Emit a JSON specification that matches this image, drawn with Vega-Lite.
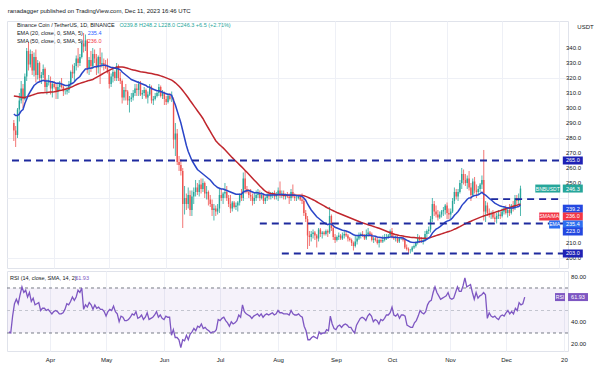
{
"$schema": "https://vega.github.io/schema/vega-lite/v6.json",
"background": "#ffffff",
"padding": {"left": 5, "top": 7, "right": 0, "bottom": 0},
"spacing": 1,
"title": {"text": "ranadagger published on TradingView.com, Dec 11, 2023 16:46 UTC", "anchor": "start", "fontSize": 6, "fontWeight": "normal", "font": "Liberation Sans", "color": "#131722", "offset": 7, "dx": 2},
"config": {
  "view": {"stroke": "#e0e3eb"},
  "font": "Liberation Sans",
  "axis": {"labelFont": "Liberation Sans", "labelFontSize": 6, "labelColor": "#131722", "gridColor": "#eef0f6", "gridWidth": 1, "domain": false, "ticks": false, "labelOverlap": false}
},
"datasets": {
"bnb": [
{"d":"2023-03-10","o":290,"h":292,"l":278,"c":285,"e":296,"s":308,"r":31},
{"d":"2023-03-11","o":285,"h":288,"l":274,"c":282,"e":295,"s":307.8,"r":30},
{"d":"2023-03-12","o":282,"h":300,"l":280,"c":299,"e":295,"s":307.6,"r":45},
{"d":"2023-03-13","o":299,"h":310,"l":291,"c":305,"e":296,"s":307.4,"r":56},
{"d":"2023-03-14","o":305,"h":318,"l":303,"c":313,"e":298,"s":307.2,"r":60},
{"d":"2023-03-15","o":313,"h":316,"l":300,"c":306,"e":299,"s":307,"r":56},
{"d":"2023-03-16","o":306,"h":323,"l":305,"c":321,"e":303,"s":307,"r":64},
{"d":"2023-03-17","o":321,"h":340,"l":318,"c":338,"e":306,"s":307.4,"r":71},
{"d":"2023-03-18","o":338,"h":344,"l":325,"c":329,"e":309,"s":307.8,"r":66},
{"d":"2023-03-19","o":329,"h":339,"l":327,"c":336,"e":311,"s":308.2,"r":68},
{"d":"2023-03-20","o":336,"h":338,"l":322,"c":325,"e":313,"s":308.6,"r":62},
{"d":"2023-03-21","o":325,"h":337,"l":321,"c":334,"e":315,"s":309,"r":66},
{"d":"2023-03-22","o":334,"h":339,"l":317,"c":322,"e":316,"s":309.4,"r":58},
{"d":"2023-03-23","o":322,"h":332,"l":319,"c":330,"e":317,"s":309.8,"r":61},
{"d":"2023-03-24","o":330,"h":331,"l":318,"c":320,"e":317.5,"s":310,"r":55},
{"d":"2023-03-25","o":320,"h":324,"l":316,"c":322,"e":318,"s":310.1,"r":56},
{"d":"2023-03-26","o":322,"h":329,"l":320,"c":326,"e":318.5,"s":310.2,"r":57},
{"d":"2023-03-27","o":326,"h":327,"l":311,"c":314,"e":318,"s":310.3,"r":50},
{"d":"2023-03-28","o":314,"h":319,"l":309,"c":317,"e":318,"s":310.4,"r":52},
{"d":"2023-03-29","o":317,"h":322,"l":315,"c":318,"e":318,"s":310.5,"r":52},
{"d":"2023-03-30","o":318,"h":321,"l":309,"c":313,"e":317.5,"s":310.6,"r":50},
{"d":"2023-03-31","o":313,"h":318,"l":307,"c":316,"e":317.5,"s":310.7,"r":51},
{"d":"2023-04-01","o":316,"h":318,"l":313,"c":314,"e":317,"s":310.8,"r":49},
{"d":"2023-04-02","o":314,"h":316,"l":306,"c":311,"e":316.5,"s":311,"r":47},
{"d":"2023-04-03","o":311,"h":317,"l":306,"c":314,"e":316.5,"s":311.3,"r":49},
{"d":"2023-04-04","o":314,"h":318,"l":312,"c":316,"e":316.5,"s":311.6,"r":50},
{"d":"2023-04-05","o":316,"h":320,"l":313,"c":314,"e":316,"s":311.9,"r":49},
{"d":"2023-04-06","o":314,"h":315,"l":308,"c":311,"e":315.5,"s":312.2,"r":47},
{"d":"2023-04-07","o":311,"h":313,"l":309,"c":311,"e":315,"s":312.5,"r":47},
{"d":"2023-04-08","o":311,"h":314,"l":309,"c":312,"e":315,"s":312.8,"r":48},
{"d":"2023-04-09","o":312,"h":318,"l":310,"c":316,"e":315,"s":313.1,"r":51},
{"d":"2023-04-10","o":316,"h":325,"l":314,"c":324,"e":316,"s":313.7,"r":56},
{"d":"2023-04-11","o":324,"h":329,"l":320,"c":323,"e":316.5,"s":314.3,"r":55},
{"d":"2023-04-12","o":323,"h":330,"l":318,"c":328,"e":317.5,"s":314.9,"r":58},
{"d":"2023-04-13","o":328,"h":335,"l":325,"c":333,"e":319,"s":315.5,"r":62},
{"d":"2023-04-14","o":333,"h":340,"l":327,"c":330,"e":320,"s":316,"r":59},
{"d":"2023-04-15","o":330,"h":336,"l":328,"c":334,"e":321,"s":316.4,"r":62},
{"d":"2023-04-16","o":334,"h":345,"l":333,"c":343,"e":323,"s":316.8,"r":68},
{"d":"2023-04-17","o":343,"h":350,"l":337,"c":341,"e":324.5,"s":317.2,"r":66},
{"d":"2023-04-18","o":341,"h":349,"l":338,"c":345,"e":326,"s":317.6,"r":70},
{"d":"2023-04-19","o":345,"h":346,"l":323,"c":326,"e":326,"s":318,"r":51},
{"d":"2023-04-20","o":326,"h":334,"l":322,"c":332,"e":326.5,"s":318.4,"r":55},
{"d":"2023-04-21","o":332,"h":338,"l":324,"c":328,"e":326.5,"s":318.7,"r":53},
{"d":"2023-04-22","o":328,"h":340,"l":326,"c":336,"e":327,"s":319,"r":57},
{"d":"2023-04-23","o":336,"h":339,"l":330,"c":333,"e":327.5,"s":319.7,"r":55},
{"d":"2023-04-24","o":333,"h":336,"l":322,"c":327,"e":327.5,"s":320.4,"r":51},
{"d":"2023-04-25","o":327,"h":335,"l":323,"c":334,"e":328,"s":321.1,"r":55},
{"d":"2023-04-26","o":334,"h":340,"l":316,"c":329,"e":328,"s":321.8,"r":52},
{"d":"2023-04-27","o":329,"h":337,"l":327,"c":330,"e":328.5,"s":322.5,"r":53},
{"d":"2023-04-28","o":330,"h":333,"l":325,"c":328,"e":328.5,"s":323.2,"r":51},
{"d":"2023-04-29","o":328,"h":332,"l":326,"c":327,"e":328.5,"s":323.9,"r":51},
{"d":"2023-04-30","o":327,"h":333,"l":323,"c":324,"e":328,"s":324.5,"r":49},
{"d":"2023-05-01","o":324,"h":326,"l":313,"c":316,"e":327.5,"s":325.1,"r":45},
{"d":"2023-05-02","o":316,"h":323,"l":314,"c":321,"e":327,"s":325.7,"r":49},
{"d":"2023-05-03","o":321,"h":326,"l":317,"c":324,"e":327,"s":326.3,"r":51},
{"d":"2023-05-04","o":324,"h":325,"l":318,"c":320,"e":326.5,"s":326.8,"r":50},
{"d":"2023-05-05","o":320,"h":330,"l":318,"c":328,"e":326.5,"s":327.1,"r":54},
{"d":"2023-05-06","o":328,"h":329,"l":318,"c":320,"e":326,"s":327.3,"r":49},
{"d":"2023-05-07","o":320,"h":324,"l":316,"c":318,"e":325.5,"s":327.4,"r":47},
{"d":"2023-05-08","o":318,"h":319,"l":303,"c":307,"e":324,"s":327.3,"r":40},
{"d":"2023-05-09","o":307,"h":314,"l":305,"c":312,"e":323,"s":327.1,"r":45},
{"d":"2023-05-10","o":312,"h":316,"l":305,"c":311,"e":322,"s":326.8,"r":44},
{"d":"2023-05-11","o":311,"h":312,"l":302,"c":305,"e":321,"s":326.5,"r":41},
{"d":"2023-05-12","o":305,"h":308,"l":297,"c":306,"e":320,"s":326.1,"r":41},
{"d":"2023-05-13","o":306,"h":310,"l":304,"c":307,"e":319,"s":325.7,"r":42},
{"d":"2023-05-14","o":307,"h":312,"l":305,"c":310,"e":318.5,"s":325.4,"r":44},
{"d":"2023-05-15","o":310,"h":316,"l":308,"c":313,"e":318,"s":325.1,"r":47},
{"d":"2023-05-16","o":313,"h":316,"l":308,"c":312,"e":317.5,"s":324.8,"r":46},
{"d":"2023-05-17","o":312,"h":318,"l":308,"c":316,"e":317,"s":324.5,"r":49},
{"d":"2023-05-18","o":316,"h":318,"l":308,"c":309,"e":316.5,"s":324.2,"r":43},
{"d":"2023-05-19","o":309,"h":312,"l":306,"c":310,"e":316,"s":324,"r":44},
{"d":"2023-05-20","o":310,"h":314,"l":308,"c":312,"e":315.5,"s":323.8,"r":46},
{"d":"2023-05-21","o":312,"h":313,"l":306,"c":307,"e":315,"s":323.6,"r":42},
{"d":"2023-05-22","o":307,"h":311,"l":303,"c":309,"e":314,"s":323.4,"r":44},
{"d":"2023-05-23","o":309,"h":316,"l":308,"c":314,"e":314,"s":323.2,"r":48},
{"d":"2023-05-24","o":314,"h":315,"l":303,"c":305,"e":313,"s":323,"r":42},
{"d":"2023-05-25","o":305,"h":308,"l":302,"c":306,"e":312.5,"s":322.7,"r":43},
{"d":"2023-05-26","o":306,"h":310,"l":305,"c":308,"e":312,"s":322.4,"r":44},
{"d":"2023-05-27","o":308,"h":311,"l":307,"c":310,"e":311.5,"s":322.1,"r":46},
{"d":"2023-05-28","o":310,"h":316,"l":308,"c":314,"e":311.5,"s":321.8,"r":49},
{"d":"2023-05-29","o":314,"h":315,"l":307,"c":308,"e":311,"s":321.4,"r":44},
{"d":"2023-05-30","o":308,"h":312,"l":306,"c":310,"e":310.5,"s":321,"r":46},
{"d":"2023-05-31","o":310,"h":311,"l":302,"c":306,"e":310,"s":320.6,"r":43},
{"d":"2023-06-01","o":306,"h":308,"l":302,"c":304,"e":309.5,"s":320.1,"r":42},
{"d":"2023-06-02","o":304,"h":310,"l":303,"c":308,"e":309,"s":319.6,"r":45},
{"d":"2023-06-03","o":308,"h":310,"l":305,"c":306,"e":309,"s":319.1,"r":44},
{"d":"2023-06-04","o":306,"h":311,"l":304,"c":306,"e":308.5,"s":318.6,"r":44},
{"d":"2023-06-05","o":306,"h":307,"l":273,"c":279,"e":305,"s":317.8,"r":28},
{"d":"2023-06-06","o":279,"h":290,"l":268,"c":283,"e":302,"s":316.8,"r":33},
{"d":"2023-06-07","o":283,"h":286,"l":262,"c":264,"e":298,"s":315.7,"r":26},
{"d":"2023-06-08","o":264,"h":268,"l":258,"c":262,"e":294,"s":314.5,"r":26},
{"d":"2023-06-09","o":262,"h":266,"l":255,"c":258,"e":290,"s":313.2,"r":24},
{"d":"2023-06-10","o":258,"h":260,"l":220,"c":236,"e":285,"s":311.7,"r":17},
{"d":"2023-06-11","o":236,"h":248,"l":229,"c":240,"e":280,"s":310.1,"r":24},
{"d":"2023-06-12","o":240,"h":243,"l":232,"c":236,"e":275,"s":308.5,"r":23},
{"d":"2023-06-13","o":236,"h":247,"l":233,"c":242,"e":271,"s":306.8,"r":28},
{"d":"2023-06-14","o":242,"h":245,"l":228,"c":232,"e":268,"s":305,"r":24},
{"d":"2023-06-15","o":232,"h":245,"l":228,"c":241,"e":265,"s":303.3,"r":29},
{"d":"2023-06-16","o":241,"h":247,"l":236,"c":244,"e":263,"s":301.6,"r":31},
{"d":"2023-06-17","o":244,"h":252,"l":241,"c":247,"e":261,"s":299.9,"r":34},
{"d":"2023-06-18","o":247,"h":250,"l":242,"c":244,"e":259,"s":298.2,"r":32},
{"d":"2023-06-19","o":244,"h":252,"l":241,"c":249,"e":258,"s":296.5,"r":36},
{"d":"2023-06-20","o":249,"h":253,"l":243,"c":246,"e":257,"s":294.8,"r":35},
{"d":"2023-06-21","o":246,"h":253,"l":244,"c":250,"e":256,"s":293,"r":38},
{"d":"2023-06-22","o":250,"h":251,"l":240,"c":243,"e":255,"s":290.8,"r":34},
{"d":"2023-06-23","o":243,"h":248,"l":239,"c":244,"e":254,"s":288.6,"r":35},
{"d":"2023-06-24","o":244,"h":245,"l":235,"c":239,"e":253,"s":286.5,"r":33},
{"d":"2023-06-25","o":239,"h":242,"l":234,"c":236,"e":252,"s":284.4,"r":32},
{"d":"2023-06-26","o":236,"h":239,"l":228,"c":232,"e":250.5,"s":282.3,"r":30},
{"d":"2023-06-27","o":232,"h":236,"l":225,"c":233,"e":249,"s":280.2,"r":31},
{"d":"2023-06-28","o":233,"h":235,"l":228,"c":231,"e":248,"s":278.2,"r":31},
{"d":"2023-06-29","o":231,"h":236,"l":229,"c":233,"e":247,"s":276.8,"r":33},
{"d":"2023-06-30","o":233,"h":246,"l":230,"c":242,"e":246.5,"s":275.6,"r":42},
{"d":"2023-07-01","o":242,"h":246,"l":238,"c":240,"e":246,"s":274.5,"r":41},
{"d":"2023-07-02","o":240,"h":244,"l":236,"c":243,"e":246,"s":273.4,"r":43},
{"d":"2023-07-03","o":243,"h":250,"l":240,"c":244,"e":245.5,"s":272.1,"r":44},
{"d":"2023-07-04","o":244,"h":248,"l":238,"c":240,"e":245,"s":270.8,"r":41},
{"d":"2023-07-05","o":240,"h":242,"l":234,"c":236,"e":244.5,"s":269.5,"r":39},
{"d":"2023-07-06","o":236,"h":242,"l":230,"c":233,"e":244,"s":268.2,"r":36},
{"d":"2023-07-07","o":233,"h":238,"l":231,"c":237,"e":243.5,"s":266.9,"r":40},
{"d":"2023-07-08","o":237,"h":238,"l":233,"c":234,"e":243,"s":265.7,"r":38},
{"d":"2023-07-09","o":234,"h":237,"l":232,"c":235,"e":242.5,"s":264.5,"r":39},
{"d":"2023-07-10","o":235,"h":238,"l":231,"c":237,"e":242.5,"s":263.3,"r":41},
{"d":"2023-07-11","o":237,"h":243,"l":235,"c":242,"e":242.5,"s":262.1,"r":46},
{"d":"2023-07-12","o":242,"h":246,"l":238,"c":240,"e":242.5,"s":260.9,"r":44},
{"d":"2023-07-13","o":240,"h":257,"l":238,"c":253,"e":244,"s":259.7,"r":55},
{"d":"2023-07-14","o":253,"h":258,"l":243,"c":246,"e":244.5,"s":258.4,"r":49},
{"d":"2023-07-15","o":246,"h":248,"l":243,"c":244,"e":245,"s":257.1,"r":47},
{"d":"2023-07-16","o":244,"h":246,"l":240,"c":242,"e":245,"s":255.8,"r":46},
{"d":"2023-07-17","o":242,"h":246,"l":238,"c":241,"e":244.5,"s":254.5,"r":45},
{"d":"2023-07-18","o":241,"h":243,"l":235,"c":238,"e":244,"s":253.2,"r":43},
{"d":"2023-07-19","o":238,"h":244,"l":236,"c":240,"e":243.5,"s":251.9,"r":45},
{"d":"2023-07-20","o":240,"h":245,"l":238,"c":242,"e":243.5,"s":250.6,"r":46},
{"d":"2023-07-21","o":242,"h":246,"l":240,"c":243,"e":243.5,"s":249.3,"r":47},
{"d":"2023-07-22","o":243,"h":245,"l":238,"c":240,"e":243,"s":248,"r":45},
{"d":"2023-07-23","o":240,"h":244,"l":239,"c":242,"e":243,"s":246.8,"r":47},
{"d":"2023-07-24","o":242,"h":243,"l":236,"c":238,"e":242.5,"s":245.6,"r":44},
{"d":"2023-07-25","o":238,"h":241,"l":236,"c":240,"e":242,"s":244.5,"r":46},
{"d":"2023-07-26","o":240,"h":243,"l":238,"c":242,"e":242,"s":243.8,"r":47},
{"d":"2023-07-27","o":242,"h":245,"l":239,"c":241,"e":242,"s":243.3,"r":46},
{"d":"2023-07-28","o":241,"h":244,"l":239,"c":242,"e":242,"s":243,"r":47},
{"d":"2023-07-29","o":242,"h":244,"l":240,"c":243,"e":242,"s":242.8,"r":48},
{"d":"2023-07-30","o":243,"h":245,"l":239,"c":241,"e":242,"s":242.6,"r":46},
{"d":"2023-07-31","o":241,"h":244,"l":239,"c":242,"e":242,"s":242.4,"r":47},
{"d":"2023-08-01","o":242,"h":247,"l":238,"c":245,"e":242.3,"s":242.2,"r":50},
{"d":"2023-08-02","o":245,"h":251,"l":240,"c":242,"e":242.3,"s":242.1,"r":48},
{"d":"2023-08-03","o":242,"h":245,"l":240,"c":243,"e":242.4,"s":242,"r":48},
{"d":"2023-08-04","o":243,"h":245,"l":239,"c":241,"e":242.3,"s":241.9,"r":47},
{"d":"2023-08-05","o":241,"h":243,"l":239,"c":242,"e":242.2,"s":241.9,"r":47},
{"d":"2023-08-06","o":242,"h":244,"l":240,"c":241,"e":242,"s":241.9,"r":47},
{"d":"2023-08-07","o":241,"h":243,"l":236,"c":240,"e":241.8,"s":241.8,"r":46},
{"d":"2023-08-08","o":240,"h":246,"l":238,"c":244,"e":242,"s":241.8,"r":50},
{"d":"2023-08-09","o":244,"h":249,"l":240,"c":241,"e":242,"s":241.9,"r":47},
{"d":"2023-08-10","o":241,"h":243,"l":238,"c":240,"e":241.8,"s":241.9,"r":46},
{"d":"2023-08-11","o":240,"h":242,"l":238,"c":240,"e":241.6,"s":241.9,"r":46},
{"d":"2023-08-12","o":240,"h":242,"l":239,"c":241,"e":241.5,"s":241.9,"r":47},
{"d":"2023-08-13","o":241,"h":242,"l":238,"c":239,"e":241.3,"s":241.8,"r":45},
{"d":"2023-08-14","o":239,"h":243,"l":236,"c":238,"e":241,"s":241.7,"r":44},
{"d":"2023-08-15","o":238,"h":240,"l":228,"c":230,"e":240,"s":241.5,"r":36},
{"d":"2023-08-16","o":230,"h":232,"l":224,"c":226,"e":238.5,"s":241.1,"r":32},
{"d":"2023-08-17","o":226,"h":228,"l":206,"c":215,"e":236,"s":240.6,"r":24},
{"d":"2023-08-18","o":215,"h":218,"l":208,"c":214,"e":234,"s":240,"r":24},
{"d":"2023-08-19","o":214,"h":218,"l":211,"c":216,"e":232,"s":239.4,"r":26},
{"d":"2023-08-20","o":216,"h":219,"l":213,"c":217,"e":230.5,"s":238.8,"r":27},
{"d":"2023-08-21","o":217,"h":218,"l":212,"c":215,"e":229,"s":238.2,"r":26},
{"d":"2023-08-22","o":215,"h":216,"l":207,"c":213,"e":227.5,"s":237.5,"r":25},
{"d":"2023-08-23","o":213,"h":220,"l":211,"c":219,"e":226.5,"s":236.8,"r":31},
{"d":"2023-08-24","o":219,"h":220,"l":214,"c":216,"e":225.5,"s":236.1,"r":29},
{"d":"2023-08-25","o":216,"h":218,"l":213,"c":217,"e":224.5,"s":235.4,"r":30},
{"d":"2023-08-26","o":217,"h":218,"l":215,"c":216,"e":223.5,"s":234.7,"r":30},
{"d":"2023-08-27","o":216,"h":219,"l":215,"c":218,"e":222.8,"s":234,"r":33},
{"d":"2023-08-28","o":218,"h":219,"l":214,"c":217,"e":222.2,"s":233.3,"r":32},
{"d":"2023-08-29","o":217,"h":234,"l":216,"c":228,"e":222.8,"s":232.7,"r":45},
{"d":"2023-08-30","o":228,"h":229,"l":218,"c":220,"e":222.5,"s":232.1,"r":38},
{"d":"2023-08-31","o":220,"h":222,"l":212,"c":214,"e":221.5,"s":231.5,"r":34},
{"d":"2023-09-01","o":214,"h":216,"l":210,"c":212,"e":220.5,"s":230.9,"r":33},
{"d":"2023-09-02","o":212,"h":215,"l":211,"c":214,"e":220,"s":230.3,"r":36},
{"d":"2023-09-03","o":214,"h":217,"l":212,"c":215,"e":219.5,"s":229.8,"r":37},
{"d":"2023-09-04","o":215,"h":216,"l":212,"c":213,"e":219,"s":229.3,"r":35},
{"d":"2023-09-05","o":213,"h":217,"l":212,"c":215,"e":218.5,"s":228.8,"r":37},
{"d":"2023-09-06","o":215,"h":218,"l":213,"c":216,"e":218.3,"s":228.3,"r":38},
{"d":"2023-09-07","o":216,"h":218,"l":214,"c":215,"e":218,"s":227.8,"r":37},
{"d":"2023-09-08","o":215,"h":216,"l":211,"c":213,"e":217.5,"s":227.3,"r":35},
{"d":"2023-09-09","o":213,"h":214,"l":211,"c":212,"e":217,"s":226.8,"r":35},
{"d":"2023-09-10","o":212,"h":213,"l":208,"c":210,"e":216.3,"s":226.3,"r":32},
{"d":"2023-09-11","o":210,"h":211,"l":205,"c":208,"e":215.5,"s":225.8,"r":30},
{"d":"2023-09-12","o":208,"h":215,"l":207,"c":211,"e":215.2,"s":225.3,"r":37},
{"d":"2023-09-13","o":211,"h":215,"l":209,"c":213,"e":215,"s":224.8,"r":40},
{"d":"2023-09-14","o":213,"h":217,"l":212,"c":215,"e":215,"s":224.3,"r":43},
{"d":"2023-09-15","o":215,"h":217,"l":213,"c":216,"e":215.1,"s":223.8,"r":44},
{"d":"2023-09-16","o":216,"h":218,"l":214,"c":215,"e":215.1,"s":223.4,"r":43},
{"d":"2023-09-17","o":215,"h":216,"l":212,"c":213,"e":214.9,"s":223,"r":41},
{"d":"2023-09-18","o":213,"h":219,"l":212,"c":216,"e":215,"s":222.6,"r":45},
{"d":"2023-09-19","o":216,"h":220,"l":214,"c":217,"e":215.2,"s":222.2,"r":47},
{"d":"2023-09-20","o":217,"h":218,"l":214,"c":216,"e":215.3,"s":221.8,"r":45},
{"d":"2023-09-21","o":216,"h":217,"l":211,"c":212,"e":214.9,"s":221.4,"r":40},
{"d":"2023-09-22","o":212,"h":214,"l":210,"c":213,"e":214.7,"s":221,"r":42},
{"d":"2023-09-23","o":213,"h":214,"l":211,"c":212,"e":214.5,"s":220.6,"r":41},
{"d":"2023-09-24","o":212,"h":214,"l":209,"c":210,"e":214,"s":220.2,"r":38},
{"d":"2023-09-25","o":210,"h":213,"l":207,"c":212,"e":213.8,"s":219.8,"r":42},
{"d":"2023-09-26","o":212,"h":213,"l":210,"c":211,"e":213.6,"s":219.3,"r":41},
{"d":"2023-09-27","o":211,"h":215,"l":210,"c":212,"e":213.4,"s":218.8,"r":43},
{"d":"2023-09-28","o":212,"h":216,"l":211,"c":214,"e":213.5,"s":218.3,"r":46},
{"d":"2023-09-29","o":214,"h":216,"l":212,"c":214,"e":213.5,"s":217.8,"r":46},
{"d":"2023-09-30","o":214,"h":216,"l":213,"c":215,"e":213.6,"s":217.3,"r":48},
{"d":"2023-10-01","o":215,"h":219,"l":214,"c":218,"e":214,"s":216.8,"r":53},
{"d":"2023-10-02","o":218,"h":220,"l":213,"c":214,"e":214,"s":216.4,"r":46},
{"d":"2023-10-03","o":214,"h":216,"l":212,"c":213,"e":213.9,"s":216,"r":45},
{"d":"2023-10-04","o":213,"h":215,"l":211,"c":214,"e":213.9,"s":215.6,"r":47},
{"d":"2023-10-05","o":214,"h":215,"l":210,"c":211,"e":213.6,"s":215.3,"r":43},
{"d":"2023-10-06","o":211,"h":214,"l":210,"c":213,"e":213.5,"s":215,"r":46},
{"d":"2023-10-07","o":213,"h":214,"l":212,"c":213,"e":213.5,"s":214.8,"r":46},
{"d":"2023-10-08","o":213,"h":214,"l":211,"c":212,"e":213.3,"s":214.6,"r":45},
{"d":"2023-10-09","o":212,"h":213,"l":206,"c":207,"e":212.6,"s":214.4,"r":37},
{"d":"2023-10-10","o":207,"h":209,"l":205,"c":206,"e":211.9,"s":214.2,"r":36},
{"d":"2023-10-11","o":206,"h":207,"l":203,"c":205,"e":211.3,"s":214,"r":35},
{"d":"2023-10-12","o":205,"h":206,"l":203,"c":205,"e":210.7,"s":213.8,"r":35},
{"d":"2023-10-13","o":205,"h":208,"l":204,"c":207,"e":210.5,"s":213.7,"r":39},
{"d":"2023-10-14","o":207,"h":209,"l":206,"c":208,"e":210.4,"s":213.6,"r":41},
{"d":"2023-10-15","o":208,"h":211,"l":207,"c":210,"e":210.4,"s":213.5,"r":45},
{"d":"2023-10-16","o":210,"h":216,"l":209,"c":213,"e":210.7,"s":213.4,"r":50},
{"d":"2023-10-17","o":213,"h":215,"l":210,"c":212,"e":210.9,"s":213.3,"r":48},
{"d":"2023-10-18","o":212,"h":214,"l":210,"c":211,"e":211,"s":213.2,"r":47},
{"d":"2023-10-19","o":211,"h":213,"l":209,"c":212,"e":211.1,"s":213.1,"r":49},
{"d":"2023-10-20","o":212,"h":218,"l":211,"c":216,"e":211.8,"s":213.1,"r":55},
{"d":"2023-10-21","o":216,"h":219,"l":214,"c":218,"e":212.5,"s":213.2,"r":58},
{"d":"2023-10-22","o":218,"h":221,"l":216,"c":219,"e":213.2,"s":213.4,"r":59},
{"d":"2023-10-23","o":219,"h":228,"l":217,"c":226,"e":214.5,"s":213.7,"r":66},
{"d":"2023-10-24","o":226,"h":240,"l":224,"c":236,"e":216.6,"s":214.1,"r":71},
{"d":"2023-10-25","o":236,"h":238,"l":228,"c":231,"e":218,"s":214.5,"r":66},
{"d":"2023-10-26","o":231,"h":235,"l":227,"c":229,"e":219.2,"s":214.9,"r":63},
{"d":"2023-10-27","o":229,"h":232,"l":225,"c":227,"e":219.9,"s":215.3,"r":60},
{"d":"2023-10-28","o":227,"h":231,"l":226,"c":229,"e":220.8,"s":215.7,"r":61},
{"d":"2023-10-29","o":229,"h":232,"l":227,"c":231,"e":221.8,"s":216.1,"r":62},
{"d":"2023-10-30","o":231,"h":234,"l":228,"c":232,"e":222.8,"s":216.5,"r":63},
{"d":"2023-10-31","o":232,"h":236,"l":229,"c":235,"e":223.9,"s":216.9,"r":66},
{"d":"2023-11-01","o":235,"h":237,"l":226,"c":230,"e":224.6,"s":217.3,"r":61},
{"d":"2023-11-02","o":230,"h":233,"l":226,"c":229,"e":225,"s":217.7,"r":60},
{"d":"2023-11-03","o":229,"h":233,"l":226,"c":231,"e":225.6,"s":218.1,"r":61},
{"d":"2023-11-04","o":231,"h":240,"l":230,"c":238,"e":226.8,"s":218.6,"r":66},
{"d":"2023-11-05","o":238,"h":247,"l":236,"c":244,"e":228.5,"s":219.2,"r":71},
{"d":"2023-11-06","o":244,"h":246,"l":239,"c":241,"e":229.7,"s":219.7,"r":67},
{"d":"2023-11-07","o":241,"h":246,"l":238,"c":244,"e":231,"s":220.3,"r":67},
{"d":"2023-11-08","o":244,"h":252,"l":243,"c":250,"e":232.8,"s":220.9,"r":72},
{"d":"2023-11-09","o":250,"h":260,"l":246,"c":256,"e":234.9,"s":221.6,"r":79},
{"d":"2023-11-10","o":256,"h":259,"l":249,"c":252,"e":236.4,"s":222.2,"r":71},
{"d":"2023-11-11","o":252,"h":256,"l":248,"c":250,"e":237.7,"s":222.8,"r":72},
{"d":"2023-11-12","o":250,"h":255,"l":246,"c":253,"e":239.2,"s":223.4,"r":73},
{"d":"2023-11-13","o":253,"h":258,"l":245,"c":247,"e":240,"s":224,"r":66},
{"d":"2023-11-14","o":247,"h":250,"l":238,"c":242,"e":240.2,"s":224.5,"r":60},
{"d":"2023-11-15","o":242,"h":253,"l":241,"c":251,"e":241.2,"s":225.1,"r":66},
{"d":"2023-11-16","o":251,"h":254,"l":243,"c":245,"e":241.6,"s":225.6,"r":61},
{"d":"2023-11-17","o":245,"h":249,"l":240,"c":244,"e":241.8,"s":226.1,"r":63},
{"d":"2023-11-18","o":244,"h":248,"l":242,"c":246,"e":242.2,"s":226.6,"r":64},
{"d":"2023-11-19","o":246,"h":250,"l":244,"c":249,"e":242.9,"s":227.1,"r":66},
{"d":"2023-11-20","o":249,"h":255,"l":246,"c":252,"e":243.8,"s":227.6,"r":64},
{"d":"2023-11-21","o":252,"h":272,"l":225,"c":231,"e":242.5,"s":228,"r":43},
{"d":"2023-11-22","o":231,"h":238,"l":224,"c":235,"e":241.9,"s":228.4,"r":48},
{"d":"2023-11-23","o":235,"h":237,"l":228,"c":230,"e":240.8,"s":228.8,"r":45},
{"d":"2023-11-24","o":230,"h":233,"l":227,"c":229,"e":239.7,"s":229.2,"r":44},
{"d":"2023-11-25","o":229,"h":231,"l":226,"c":230,"e":238.8,"s":229.6,"r":45},
{"d":"2023-11-26","o":230,"h":232,"l":226,"c":227,"e":237.7,"s":230,"r":43},
{"d":"2023-11-27","o":227,"h":230,"l":224,"c":226,"e":236.6,"s":230.4,"r":42},
{"d":"2023-11-28","o":226,"h":230,"l":223,"c":228,"e":235.9,"s":230.8,"r":45},
{"d":"2023-11-29","o":228,"h":232,"l":226,"c":229,"e":235.3,"s":231.2,"r":46},
{"d":"2023-11-30","o":229,"h":231,"l":226,"c":228,"e":234.6,"s":231.6,"r":45},
{"d":"2023-12-01","o":228,"h":233,"l":227,"c":231,"e":234.3,"s":232,"r":48},
{"d":"2023-12-02","o":231,"h":234,"l":229,"c":233,"e":234.1,"s":232.4,"r":50},
{"d":"2023-12-03","o":233,"h":235,"l":229,"c":230,"e":233.7,"s":232.8,"r":47},
{"d":"2023-12-04","o":230,"h":234,"l":227,"c":232,"e":233.5,"s":233.2,"r":49},
{"d":"2023-12-05","o":232,"h":236,"l":228,"c":230,"e":233.2,"s":233.6,"r":47},
{"d":"2023-12-06","o":230,"h":236,"l":229,"c":235,"e":233.3,"s":234,"r":52},
{"d":"2023-12-07","o":235,"h":238,"l":231,"c":233,"e":233.3,"s":234.4,"r":50},
{"d":"2023-12-08","o":233,"h":242,"l":232,"c":240,"e":233.8,"s":234.8,"r":57},
{"d":"2023-12-09","o":240,"h":242,"l":236,"c":238,"e":234,"s":235.2,"r":55},
{"d":"2023-12-10","o":238,"h":243,"l":236,"c":239.8,"e":234.3,"s":235.6,"r":56},
{"d":"2023-12-11","o":239.8,"h":248.2,"l":228,"c":246.3,"e":235.4,"s":236,"r":61.93}
],
"levels": [
{"p":265,"from":"2023-03-09","to":"2024-01-03T03:50:00Z"},
{"p":223,"from":"2023-07-22","to":"2024-01-03T03:50:00Z"},
{"p":203,"from":"2023-08-03","to":"2024-01-03T03:50:00Z"},
{"p":239.2,"from":"2023-11-25","to":"2024-01-03T03:50:00Z"}
],
"pticks": [{"v":200},{"v":210},{"v":250},{"v":260},{"v":270},{"v":280},{"v":290},{"v":300},{"v":310},{"v":320},{"v":330},{"v":340}],
"rticks": [{"v":20},{"v":40},{"v":80}],
"tags": [
{"t":"265.0","v":265,"k":"hl"},
{"t":"203.0","v":203,"k":"hl"},
{"t":"223.0","v":223,"k":"ln2"},
{"t":"239.2","v":239.2,"k":"ln"},
{"t":"236.0","v":236,"k":"sma"},
{"t":"235.4","v":235.4,"k":"ema"},
{"t":"246.3","v":246.3,"k":"px"}
]
},
"vconcat": [
{
"width": 561,
"height": 247,
"layer": [
{
"data": {"name": "bnb"},
"mark": {"type": "rule", "strokeWidth": 0.8},
"encoding": {
"x": {"field": "d", "type": "temporal",
  "scale": {"type": "utc", "domain": [{"year":2023,"month":3,"date":9,"utc":true},{"year":2024,"month":1,"date":3,"hours":3,"minutes":50,"utc":true}]},
  "axis": {"labels": false, "grid": true, "title": null,
    "values": [{"year":2023,"month":4,"date":1,"utc":true},{"year":2023,"month":5,"date":1,"utc":true},{"year":2023,"month":6,"date":1,"utc":true},{"year":2023,"month":7,"date":1,"utc":true},{"year":2023,"month":8,"date":1,"utc":true},{"year":2023,"month":9,"date":1,"utc":true},{"year":2023,"month":10,"date":1,"utc":true},{"year":2023,"month":11,"date":1,"utc":true},{"year":2023,"month":12,"date":1,"utc":true},{"year":2024,"month":1,"date":1,"utc":true}]}},
"y": {"field": "l", "type": "quantitative",
  "scale": {"domain": [193.33, 358], "nice": false, "zero": false},
  "axis": {"orient": "right", "grid": true, "labels": false, "values": [200,210,220,230,240,250,260,270,280,290,300,310,320,330,340,350],
    "title": "USDT", "titleAngle": 0, "titleAlign": "center", "titleBaseline": "middle", "titleX": 17, "titleY": 5, "titleFontSize": 6, "titleFontWeight": "normal", "titleColor": "#131722"}},
"y2": {"field": "h"},
"color": {"condition": {"test": "datum.c >= datum.o", "value": "#26a69a"}, "value": "#ef5350"}
}
},
{
"data": {"name": "bnb"},
"mark": {"type": "bar", "size": 1.4},
"encoding": {
"x": {"field": "d", "type": "temporal"},
"y": {"field": "o", "type": "quantitative"},
"y2": {"field": "c"},
"color": {"condition": {"test": "datum.c >= datum.o", "value": "#26a69a"}, "value": "#ef5350"}
}
},
{
"data": {"name": "bnb"},
"mark": {"type": "line", "color": "#c0262d", "strokeWidth": 1.5},
"encoding": {"x": {"field": "d", "type": "temporal"}, "y": {"field": "s", "type": "quantitative"}}
},
{
"data": {"name": "bnb"},
"mark": {"type": "line", "color": "#2a45c8", "strokeWidth": 1.5},
"encoding": {"x": {"field": "d", "type": "temporal"}, "y": {"field": "e", "type": "quantitative"}}
},
{
"data": {"name": "levels"},
"mark": {"type": "rule", "strokeDash": [7, 5], "strokeWidth": 1.8, "color": "#1e2a9e"},
"encoding": {
"x": {"field": "from", "type": "temporal"},
"x2": {"field": "to"},
"y": {"field": "p", "type": "quantitative"}
}
},
{
"data": {"name": "pticks"},
"mark": {"type": "text", "align": "left", "baseline": "middle", "fontSize": 6, "color": "#131722"},
"encoding": {"x": {"datum": {"year":2024,"month":1,"date":4,"hours":19,"utc":true}, "type": "temporal"}, "y": {"field": "v", "type": "quantitative"}, "text": {"field": "v", "type": "quantitative", "format": ".1f"}}
},
{
"data": {"values": [{}]},
"mark": {"type": "text", "text": "Binance Coin / TetherUS, 1D, BINANCE", "align": "left", "baseline": "middle", "fontSize": 5.5, "color": "#131722"},
"encoding": {"x": {"datum": {"year":2023,"month":3,"date":11,"hours":16,"utc":true}, "type": "temporal"}, "y": {"datum": 355.3, "type": "quantitative"}}
},
{
"data": {"values": [{}]},
"mark": {"type": "text", "text": "O239.8 H248.2 L228.0 C246.3 +6.5 (+2.71%)", "align": "left", "baseline": "middle", "fontSize": 5.5, "color": "#26a69a"},
"encoding": {"x": {"datum": {"year":2023,"month":5,"date":6,"hours":12,"utc":true}, "type": "temporal"}, "y": {"datum": 355.3, "type": "quantitative"}}
},
{
"data": {"values": [{}]},
"mark": {"type": "text", "text": "EMA (20, close, 0, SMA, 5)", "align": "left", "baseline": "middle", "fontSize": 5.5, "color": "#131722"},
"encoding": {"x": {"datum": {"year":2023,"month":3,"date":11,"hours":16,"utc":true}, "type": "temporal"}, "y": {"datum": 350, "type": "quantitative"}}
},
{
"data": {"values": [{}]},
"mark": {"type": "text", "text": "235.4", "align": "left", "baseline": "middle", "fontSize": 5.5, "color": "#2962ff"},
"encoding": {"x": {"datum": {"year":2023,"month":4,"date":19,"hours":6,"utc":true}, "type": "temporal"}, "y": {"datum": 350, "type": "quantitative"}}
},
{
"data": {"values": [{}]},
"mark": {"type": "text", "text": "SMA (50, close, 0, SMA, 5)", "align": "left", "baseline": "middle", "fontSize": 5.5, "color": "#131722"},
"encoding": {"x": {"datum": {"year":2023,"month":3,"date":11,"hours":16,"utc":true}, "type": "temporal"}, "y": {"datum": 344.7, "type": "quantitative"}}
},
{
"data": {"values": [{}]},
"mark": {"type": "text", "text": "236.0", "align": "left", "baseline": "middle", "fontSize": 5.5, "color": "#f23645"},
"encoding": {"x": {"datum": {"year":2023,"month":4,"date":19,"hours":6,"utc":true}, "type": "temporal"}, "y": {"datum": 344.7, "type": "quantitative"}}
},
{
"data": {"name": "tags"},
"transform": [{"filter": "datum.k == 'px'"}],
"mark": {"type": "point", "shape": "M-1,-0.32H1V0.32H-1Z", "size": 625, "filled": true, "opacity": 1, "strokeWidth": 0, "color": "#26a69a"},
"encoding": {"x": {"datum": {"year":2023,"month":12,"date":25,"hours":21,"utc":true}, "type": "temporal"}, "y": {"field": "v", "type": "quantitative"}}
},
{
"data": {"name": "tags"},
"transform": [{"filter": "datum.k == 'px'"}],
"mark": {"type": "text", "text": "BNBUSDT", "fontSize": 5, "color": "#ffffff", "align": "center", "baseline": "middle"},
"encoding": {"x": {"datum": {"year":2023,"month":12,"date":25,"hours":21,"utc":true}, "type": "temporal"}, "y": {"field": "v", "type": "quantitative"}}
},
{
"data": {"name": "tags"},
"transform": [{"filter": "datum.k == 'sma'"}],
"mark": {"type": "point", "shape": "M-1,-0.4H1V0.4H-1Z", "size": 400, "filled": true, "opacity": 1, "strokeWidth": 0, "color": "#f23645", "yOffset": 12.5},
"encoding": {"x": {"datum": {"year":2023,"month":12,"date":26,"hours":16,"utc":true}, "type": "temporal"}, "y": {"field": "v", "type": "quantitative"}}
},
{
"data": {"name": "tags"},
"transform": [{"filter": "datum.k == 'sma'"}],
"mark": {"type": "text", "text": "SMA/MA", "fontSize": 5, "color": "#ffffff", "align": "center", "baseline": "middle", "yOffset": 12.5},
"encoding": {"x": {"datum": {"year":2023,"month":12,"date":26,"hours":16,"utc":true}, "type": "temporal"}, "y": {"field": "v", "type": "quantitative"}}
},
{
"data": {"name": "tags"},
"transform": [{"filter": "datum.k == 'ema'"}],
"mark": {"type": "point", "shape": "M-1,-0.73H1V0.73H-1Z", "size": 121, "filled": true, "opacity": 1, "strokeWidth": 0, "color": "#2e6ff0", "yOffset": 19.6},
"encoding": {"x": {"datum": {"year":2023,"month":12,"date":29,"hours":14,"utc":true}, "type": "temporal"}, "y": {"field": "v", "type": "quantitative"}}
},
{
"data": {"name": "tags"},
"transform": [{"filter": "datum.k == 'ema'"}],
"mark": {"type": "text", "text": "EMA", "fontSize": 5, "color": "#ffffff", "align": "center", "baseline": "middle", "yOffset": 19.6},
"encoding": {"x": {"datum": {"year":2023,"month":12,"date":29,"hours":14,"utc":true}, "type": "temporal"}, "y": {"field": "v", "type": "quantitative"}}
},
{
"data": {"name": "tags"},
"transform": [{"filter": "datum.k == 'hl' || datum.k == 'px'"}],
"mark": {"type": "point", "shape": "M-1,-0.4H1V0.4H-1Z", "size": 400, "filled": true, "opacity": 1, "strokeWidth": 0},
"encoding": {"x": {"datum": {"year":2024,"month":1,"date":8,"hours":12,"utc":true}, "type": "temporal"}, "y": {"field": "v", "type": "quantitative"},
  "color": {"condition": {"test": "datum.k == 'px'", "value": "#26a69a"}, "value": "#1f22b5"}}
},
{
"data": {"name": "tags"},
"transform": [{"filter": "datum.k == 'hl' || datum.k == 'px'"}],
"mark": {"type": "text", "fontSize": 5.5, "color": "#ffffff", "align": "center", "baseline": "middle"},
"encoding": {"x": {"datum": {"year":2024,"month":1,"date":8,"hours":12,"utc":true}, "type": "temporal"}, "y": {"field": "v", "type": "quantitative"}, "text": {"field": "t"}}
},
{
"data": {"name": "tags"},
"transform": [{"filter": "datum.k == 'ln'"}],
"mark": {"type": "point", "shape": "M-1,-0.4H1V0.4H-1Z", "size": 400, "filled": true, "opacity": 1, "strokeWidth": 0, "color": "#2448e0", "yOffset": 9.5},
"encoding": {"x": {"datum": {"year":2024,"month":1,"date":8,"hours":12,"utc":true}, "type": "temporal"}, "y": {"field": "v", "type": "quantitative"}}
},
{
"data": {"name": "tags"},
"transform": [{"filter": "datum.k == 'ln'"}],
"mark": {"type": "text", "fontSize": 5.5, "color": "#ffffff", "align": "center", "baseline": "middle", "yOffset": 9.5},
"encoding": {"x": {"datum": {"year":2024,"month":1,"date":8,"hours":12,"utc":true}, "type": "temporal"}, "y": {"field": "v", "type": "quantitative"}, "text": {"field": "t"}}
},
{
"data": {"name": "tags"},
"transform": [{"filter": "datum.k == 'sma'"}],
"mark": {"type": "point", "shape": "M-1,-0.4H1V0.4H-1Z", "size": 400, "filled": true, "opacity": 1, "strokeWidth": 0, "color": "#f23645", "yOffset": 12.5},
"encoding": {"x": {"datum": {"year":2024,"month":1,"date":8,"hours":12,"utc":true}, "type": "temporal"}, "y": {"field": "v", "type": "quantitative"}}
},
{
"data": {"name": "tags"},
"transform": [{"filter": "datum.k == 'sma'"}],
"mark": {"type": "text", "fontSize": 5.5, "color": "#ffffff", "align": "center", "baseline": "middle", "yOffset": 12.5},
"encoding": {"x": {"datum": {"year":2024,"month":1,"date":8,"hours":12,"utc":true}, "type": "temporal"}, "y": {"field": "v", "type": "quantitative"}, "text": {"field": "t"}}
},
{
"data": {"name": "tags"},
"transform": [{"filter": "datum.k == 'ema'"}],
"mark": {"type": "point", "shape": "M-1,-0.4H1V0.4H-1Z", "size": 400, "filled": true, "opacity": 1, "strokeWidth": 0, "color": "#2e6ff0", "yOffset": 19.6},
"encoding": {"x": {"datum": {"year":2024,"month":1,"date":8,"hours":12,"utc":true}, "type": "temporal"}, "y": {"field": "v", "type": "quantitative"}}
},
{
"data": {"name": "tags"},
"transform": [{"filter": "datum.k == 'ema'"}],
"mark": {"type": "text", "fontSize": 5.5, "color": "#ffffff", "align": "center", "baseline": "middle", "yOffset": 19.6},
"encoding": {"x": {"datum": {"year":2024,"month":1,"date":8,"hours":12,"utc":true}, "type": "temporal"}, "y": {"field": "v", "type": "quantitative"}, "text": {"field": "t"}}
},
{
"data": {"name": "tags"},
"transform": [{"filter": "datum.k == 'ln2'"}],
"mark": {"type": "point", "shape": "M-1,-0.4H1V0.4H-1Z", "size": 400, "filled": true, "opacity": 1, "strokeWidth": 0, "color": "#2448e0", "yOffset": 8},
"encoding": {"x": {"datum": {"year":2024,"month":1,"date":8,"hours":12,"utc":true}, "type": "temporal"}, "y": {"field": "v", "type": "quantitative"}}
},
{
"data": {"name": "tags"},
"transform": [{"filter": "datum.k == 'ln2'"}],
"mark": {"type": "text", "fontSize": 5.5, "color": "#ffffff", "align": "center", "baseline": "middle", "yOffset": 8},
"encoding": {"x": {"datum": {"year":2024,"month":1,"date":8,"hours":12,"utc":true}, "type": "temporal"}, "y": {"field": "v", "type": "quantitative"}, "text": {"field": "t"}}
}
]
},
{
"width": 561,
"height": 80,
"layer": [
{
"data": {"values": [{}]},
"mark": {"type": "rect", "color": "#7e57c2", "opacity": 0.08},
"encoding": {
"x": {"datum": {"year":2023,"month":3,"date":9,"utc":true}, "type": "temporal",
  "scale": {"type": "utc", "domain": [{"year":2023,"month":3,"date":9,"utc":true},{"year":2024,"month":1,"date":3,"hours":3,"minutes":50,"utc":true}]},
  "axis": {"grid": true, "title": null, "labelPadding": 5, "labelFontSize": 6, "labelOverlap": false,
    "labelExpr": "utcmonth(datum.value) == 0 ? '20' : utcFormat(datum.value, '%b')",
    "values": [{"year":2023,"month":4,"date":1,"utc":true},{"year":2023,"month":5,"date":1,"utc":true},{"year":2023,"month":6,"date":1,"utc":true},{"year":2023,"month":7,"date":1,"utc":true},{"year":2023,"month":8,"date":1,"utc":true},{"year":2023,"month":9,"date":1,"utc":true},{"year":2023,"month":10,"date":1,"utc":true},{"year":2023,"month":11,"date":1,"utc":true},{"year":2023,"month":12,"date":1,"utc":true},{"year":2024,"month":1,"date":1,"utc":true}]}},
"x2": {"datum": {"year":2024,"month":1,"date":3,"hours":3,"minutes":50,"utc":true}},
"y": {"datum": 30, "type": "quantitative",
  "scale": {"domain": [14, 85.1], "nice": false, "zero": false},
  "axis": {"orient": "right", "grid": false, "labels": false, "title": null}},
"y2": {"datum": 70}
}
},
{
"data": {"values": [{"lvl": 70}, {"lvl": 50}, {"lvl": 30}]},
"mark": {"type": "rule", "strokeDash": [3, 3], "strokeWidth": 1},
"encoding": {
"y": {"field": "lvl", "type": "quantitative"},
"color": {"condition": {"test": "datum.lvl == 50", "value": "#c3c5cf"}, "value": "#787b86"}
}
},
{
"data": {"name": "bnb"},
"mark": {"type": "line", "color": "#7e57c2", "strokeWidth": 1.3},
"encoding": {"x": {"field": "d", "type": "temporal"}, "y": {"field": "r", "type": "quantitative"}}
},
{
"data": {"name": "rticks"},
"mark": {"type": "text", "align": "left", "baseline": "middle", "fontSize": 6, "color": "#131722"},
"encoding": {"x": {"datum": {"year":2024,"month":1,"date":4,"hours":19,"utc":true}, "type": "temporal"}, "y": {"field": "v", "type": "quantitative"}, "text": {"field": "v", "type": "quantitative", "format": ".2f"}}
},
{
"data": {"values": [{}]},
"mark": {"type": "text", "text": "RSI (14, close, SMA, 14, 2)", "align": "left", "baseline": "middle", "fontSize": 5.5, "color": "#131722"},
"encoding": {"x": {"datum": {"year":2023,"month":3,"date":10,"hours":14,"utc":true}, "type": "temporal"}, "y": {"datum": 79, "type": "quantitative"}}
},
{
"data": {"values": [{}]},
"mark": {"type": "text", "text": "61.93", "align": "left", "baseline": "middle", "fontSize": 5.5, "color": "#7e57c2"},
"encoding": {"x": {"datum": {"year":2023,"month":4,"date":14,"hours":12,"utc":true}, "type": "temporal"}, "y": {"datum": 79, "type": "quantitative"}}
},
{
"data": {"values": [{}]},
"mark": {"type": "point", "shape": "M-1,-0.8H1V0.8H-1Z", "size": 100, "filled": true, "opacity": 1, "strokeWidth": 0, "color": "#7e57c2"},
"encoding": {"x": {"datum": {"year":2023,"month":12,"date":29,"hours":21,"utc":true}, "type": "temporal"}, "y": {"datum": 61.93, "type": "quantitative"}}
},
{
"data": {"values": [{}]},
"mark": {"type": "text", "text": "RSI", "fontSize": 5, "color": "#ffffff", "align": "center", "baseline": "middle"},
"encoding": {"x": {"datum": {"year":2023,"month":12,"date":29,"hours":21,"utc":true}, "type": "temporal"}, "y": {"datum": 61.93, "type": "quantitative"}}
},
{
"data": {"values": [{}]},
"mark": {"type": "point", "shape": "M-1,-0.4H1V0.4H-1Z", "size": 400, "filled": true, "opacity": 1, "strokeWidth": 0, "color": "#7e57c2"},
"encoding": {"x": {"datum": {"year":2024,"month":1,"date":8,"hours":12,"utc":true}, "type": "temporal"}, "y": {"datum": 61.93, "type": "quantitative"}}
},
{
"data": {"values": [{}]},
"mark": {"type": "text", "text": "61.93", "fontSize": 5.5, "color": "#ffffff", "align": "center", "baseline": "middle"},
"encoding": {"x": {"datum": {"year":2024,"month":1,"date":8,"hours":12,"utc":true}, "type": "temporal"}, "y": {"datum": 61.93, "type": "quantitative"}}
}
]
}
]
}
